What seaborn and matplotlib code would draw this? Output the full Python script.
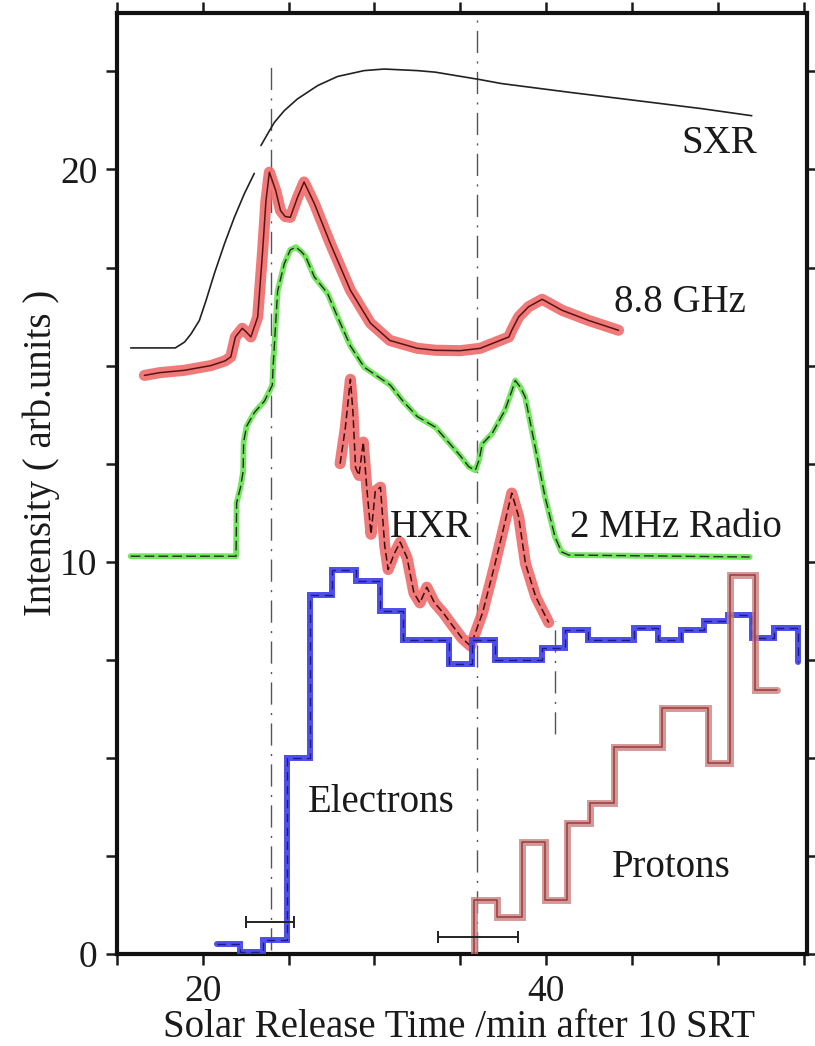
import matplotlib
matplotlib.use("Agg")
import matplotlib.pyplot as plt
import seaborn as sns

sns.set_style("ticks")
plt.rcParams["font.family"] = ["Liberation Serif", "DejaVu Serif"]

# ---- data (minutes after 10 SRT, arbitrary intensity units) ----
# soft X-ray trace, in two pieces (the record has a short gap near 23 min)
sxr_t1 = [15.8, 18.4, 18.94, 19.32, 19.8, 20.19, 20.67, 21.26, 21.84, 22.42, 23.0]
sxr_v1 = [15.45, 15.45, 15.6, 15.81, 16.15, 16.66, 17.34, 18.1, 18.78, 19.38, 19.9]
sxr_t2 = [23.39, 23.78, 24.17, 24.75, 25.52, 26.7, 27.85, 29.4, 30.56, 32.5, 33.55,
          36.16, 37.4, 41.3, 45.2, 49.07, 51.98]
sxr_v2 = [20.61, 20.91, 21.2, 21.5, 21.8, 22.14, 22.37, 22.52, 22.56, 22.52, 22.48,
          22.29, 22.19, 21.97, 21.76, 21.55, 21.37]

ghz_t = [16.6, 17.5, 18.94, 20.47, 21.3, 21.63, 21.9, 22.3, 22.55, 22.8, 23.2, 23.49,
         23.68, 23.88, 24.25, 24.53, 24.8, 25.1, 25.52, 25.9, 26.5, 27.44, 28.6, 29.77,
         30.9, 32.5, 33.55, 35.0, 36.16, 37.83, 38.0, 38.4, 38.98, 39.77, 40.93, 42.48,
         44.22]
ghz_v = [14.75, 14.82, 14.88, 15.0, 15.12, 15.22, 15.73, 15.95, 15.85, 15.73, 16.24, 17.94,
         19.2, 19.93, 19.46, 18.95, 18.8, 18.78, 19.29, 19.68, 19.13, 18.1, 16.92, 16.08,
         15.64, 15.44, 15.39, 15.38, 15.44, 15.73, 15.9, 16.24, 16.5, 16.69, 16.41, 16.15,
         15.9]

radio_t = [15.8, 21.94, 21.97, 22.2, 22.35, 22.38, 22.55, 23.0, 23.6, 24.05, 24.1, 24.36,
           24.75, 25.1, 25.42, 25.75, 26.0, 26.5, 27.27, 27.85, 28.6, 29.4, 30.93, 31.63,
           32.5, 33.55, 35.0, 35.5, 35.88, 36.1, 36.28, 36.86, 37.6, 38.0, 38.2, 38.5,
           38.78, 39.36, 39.94, 40.52, 40.9, 41.32, 51.86]
radio_v = [10.14, 10.14, 11.5, 11.9, 12.3, 13.05, 13.45, 13.8, 14.1, 14.5, 15.0, 16.9,
           17.6, 17.95, 18.02, 17.9, 17.77, 17.26, 16.84, 16.24, 15.5, 14.96, 14.5, 14.11,
           13.7, 13.43, 12.7, 12.42, 12.33, 12.6, 13.0, 13.27, 13.86, 14.35, 14.62, 14.45,
           14.2, 12.93, 11.65, 10.63, 10.25, 10.17, 10.12]

hxr_t = [28.0, 28.3, 28.6, 28.75, 28.9, 29.1, 29.35, 29.55, 29.8, 30.05, 30.35, 30.6,
         30.8, 31.15, 31.5, 31.9, 32.3, 32.65, 33.05, 33.5, 34.0, 34.5, 35.1, 35.6, 36.3,
         37.0, 37.6, 38.0, 38.4, 38.8, 39.4, 40.15]
hxr_v = [12.5, 13.4, 14.65, 13.8, 12.4, 12.2, 13.05, 11.9, 10.7, 11.8, 11.9, 10.4,
         9.8, 10.2, 10.5, 10.1, 9.2, 8.95, 9.35, 8.95, 8.7, 8.4, 8.05, 7.85, 8.7,
         9.9, 11.0, 11.75, 11.15, 9.95, 9.1, 8.45]

# step histograms: value holds from each time to the next
elec_t = [20.8, 22.15, 23.5, 24.9, 26.25, 27.55, 28.9, 30.3, 31.65, 34.35, 35.7, 37.05,
          39.75, 41.1, 42.45, 45.1, 46.5, 47.85, 49.2, 50.6, 52.0, 53.3, 54.65]
elec_v = [0.25, 0.05, 0.35, 5.0, 9.15, 9.8, 9.5, 8.75, 8.0, 7.4, 8.0, 7.5,
          7.8, 8.25, 8.0, 8.3, 8.0, 8.25, 8.5, 8.65, 8.05, 8.3, 7.45]

prot_t = [35.8, 35.8, 37.15, 38.6, 39.96, 41.22, 42.57, 43.93, 46.74, 49.46, 50.72,
          52.17, 53.43]
prot_v = [0.0, 1.38, 0.95, 2.86, 1.38, 3.33, 3.84, 5.28, 6.26, 4.86, 9.66,
          6.73, 6.73]

# release-time markers and their uncertainties
mark_t = [24.0, 36.0, 40.5]
mark_lo = [0.1, 0.0, 5.6]
mark_hi = [22.8, 24.0, 8.5]
err_t = [23.92, 36.02]
err_y = [0.82, 0.42]
err_half = [1.42, 2.32]

labels = ["SXR", "8.8 GHz", "HXR", "2 MHz Radio", "Electrons", "Protons"]
label_x = [50.06, 47.8, 33.3, 47.56, 30.4, 47.27]
label_y = [20.41, 16.36, 10.62, 10.62, 3.62, 1.96]

xticks = [15, 20, 25, 30, 35, 40, 45, 50, 55]
xtick_labels = ["", "20", "", "", "", "40", "", "", ""]
yticks = [0, 2.5, 5, 7.5, 10, 12.5, 15, 17.5, 20, 22.5]
ytick_labels = ["0", "", "", "", "10", "", "", "", "20", ""]

# ---- figure ----
fig = plt.figure(figsize=(8.15, 10.46), dpi=100)
ax = fig.add_axes([0.1435, 0.088, 0.8467, 0.9])


def trace(x, y, color, lw, z, **kw):
    sns.lineplot(x=x, y=y, ax=ax, color=color, linewidth=lw, estimator=None,
                 sort=False, legend=False, zorder=z, **kw)


dashdot = (0, (16, 6, 1.5, 6))
for t, lo, hi in zip(mark_t, mark_lo, mark_hi):
    trace([t, t], [lo, hi], "#555555", 1.0, 1, linestyle=dashdot)

ax.errorbar(err_t, err_y, xerr=err_half, fmt="none", ecolor="#222222",
            elinewidth=1.4, capsize=4, capthick=1.4, zorder=6)

# soft X-rays
trace(sxr_t1, sxr_v1, "#222222", 1.2, 3)
trace(sxr_t2, sxr_v2, "#222222", 1.2, 3)

# 8.8 GHz microwaves
trace(ghz_t, ghz_v, "#ef6b6b", 8.0, 3, alpha=0.9,
      solid_capstyle="round", solid_joinstyle="round")
trace(ghz_t, ghz_v, "#5a1212", 1.1, 4)

# 2 MHz radio
trace(radio_t, radio_v, "#74e660", 4.2, 3,
      solid_capstyle="round", solid_joinstyle="round")
trace(radio_t, radio_v, "#2a2a2a", 1.0, 4, linestyle=(0, (7, 3)))

# hard X-rays
trace(hxr_t, hxr_v, "#ef6b6b", 8.0, 3, alpha=0.9,
      solid_capstyle="round", solid_joinstyle="round")
trace(hxr_t, hxr_v, "#3a0c0c", 1.1, 4, linestyle=(0, (5, 2.5)))

# electrons
trace(elec_t, elec_v, "#4545e8", 4.3, 5, alpha=0.95, drawstyle="steps-post",
      solid_joinstyle="miter")
trace(elec_t, elec_v, "#1a1a8a", 1.0, 5, drawstyle="steps-post",
      linestyle=(0, (6, 4)))

# protons
trace(prot_t, prot_v, "#c98080", 5.0, 5, alpha=0.8, drawstyle="steps-post",
      solid_joinstyle="miter")
trace(prot_t, prot_v, "#9a3b3b", 1.1, 5, drawstyle="steps-post")

for s, x, y in zip(labels, label_x, label_y):
    ax.text(x, y, s, ha="center", va="baseline", fontsize=28, color="#1a1a1a",
            zorder=7)

ax.set_xlim(15, 55.2)
ax.set_ylim(0, 24)
ax.set_xticks(xticks)
ax.set_xticklabels(xtick_labels)
ax.set_yticks(yticks)
ax.set_yticklabels(ytick_labels)
ax.tick_params(axis="both", which="major", direction="out", length=8, width=1.8,
               labelsize=27, colors="#1a1a1a", top=True, right=True)
ax.tick_params(axis="x", pad=7)
ax.tick_params(axis="y", pad=6)
for sp in ax.spines.values():
    sp.set_visible(True)
    sp.set_linewidth(3.0)
    sp.set_color("#111111")

ax.set_xlabel("Solar Release Time /min after 10 SRT", fontsize=28, color="#1a1a1a")
ax.set_ylabel("Intensity ( arb.units )", fontsize=28, color="#1a1a1a")
ax.xaxis.set_label_coords(0.495, -0.058)
ax.yaxis.set_label_coords(-0.083, 0.532)

fig.savefig("out.png", dpi=100, facecolor="white")
